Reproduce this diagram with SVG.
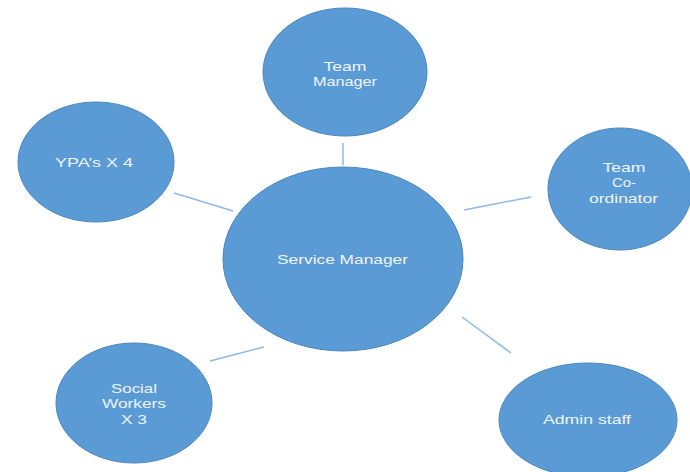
<svg xmlns="http://www.w3.org/2000/svg" width="690" height="472" viewBox="0 0 690 472">
<style>
.n{fill:#5b9bd5;stroke:#4a86bf;stroke-width:1}
.t{font-family:"Liberation Sans",Arial,sans-serif;font-size:13.5px;fill:#eef4fb;text-anchor:middle}
.c{stroke:#8fb9e3;stroke-width:1.5;fill:none}
</style>
<rect width="690" height="472" fill="#ffffff"/>
<g id="connectors">
<line class="c" x1="343" y1="143" x2="343" y2="165"/>
<line class="c" x1="174" y1="193" x2="233" y2="211"/>
<line class="c" x1="464" y1="210" x2="531" y2="197"/>
<line class="c" x1="210" y1="361" x2="264" y2="347"/>
<line class="c" x1="462" y1="317" x2="511" y2="353"/>
</g>
<g id="service-manager">
<ellipse class="n" cx="343" cy="259" rx="120" ry="92"/>
<text class="t" x="342.5" y="264" textLength="131" lengthAdjust="spacingAndGlyphs">Service Manager</text>
</g>
<g id="team-manager">
<ellipse class="n" cx="345" cy="72" rx="82" ry="64"/>
<text class="t" x="345" y="70.5" textLength="43" lengthAdjust="spacingAndGlyphs">Team</text>
<text class="t" x="345" y="86" textLength="64" lengthAdjust="spacingAndGlyphs">Manager</text>
</g>
<g id="ypas">
<ellipse class="n" cx="96" cy="162" rx="78" ry="60"/>
<text class="t" x="94" y="167" textLength="78" lengthAdjust="spacingAndGlyphs">YPA’s X 4</text>
</g>
<g id="team-coordinator">
<ellipse class="n" cx="620" cy="189" rx="72" ry="61"/>
<text class="t" x="624" y="171.5" textLength="43" lengthAdjust="spacingAndGlyphs">Team</text>
<text class="t" x="624" y="187" textLength="24" lengthAdjust="spacingAndGlyphs">Co-</text>
<text class="t" x="623.5" y="202.5" textLength="69" lengthAdjust="spacingAndGlyphs">ordinator</text>
</g>
<g id="social-workers">
<ellipse class="n" cx="134" cy="403" rx="78" ry="60"/>
<text class="t" x="134" y="392.5" textLength="46" lengthAdjust="spacingAndGlyphs">Social</text>
<text class="t" x="134" y="408" textLength="64" lengthAdjust="spacingAndGlyphs">Workers</text>
<text class="t" x="134" y="423.5" textLength="26" lengthAdjust="spacingAndGlyphs">X 3</text>
</g>
<g id="admin-staff">
<ellipse class="n" cx="588" cy="420" rx="89" ry="57"/>
<text class="t" x="587" y="424" textLength="88" lengthAdjust="spacingAndGlyphs">Admin staff</text>
</g>
</svg>
